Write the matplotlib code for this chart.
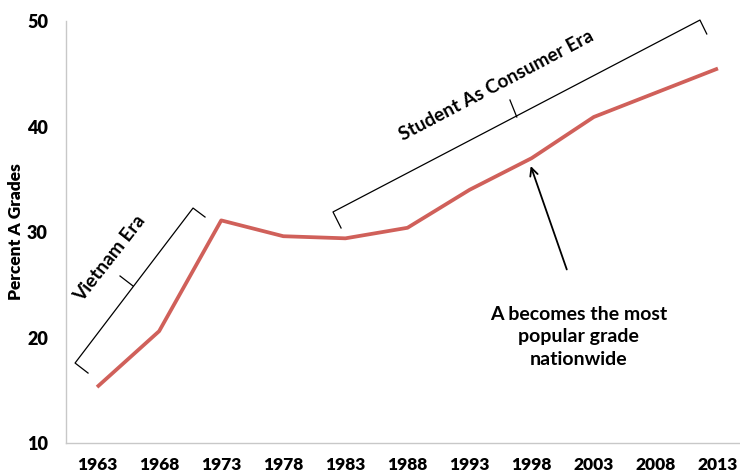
import matplotlib
matplotlib.use("Agg")
import matplotlib.pyplot as plt

years = ["1963", "1968", "1973", "1978", "1983", "1988", "1993", "1998", "2003", "2008", "2013"]
percent_a = [15.3, 20.6, 31.1, 29.6, 29.4, 30.4, 34.0, 37.0, 40.9, 43.2, 45.5]
y_ticks = [10, 20, 30, 40, 50]

plt.rcParams['font.family'] = ['Lato', 'DejaVu Sans']

fig = plt.figure(figsize=(7.4, 4.73), dpi=100)
ax = fig.add_axes([66/740, 30/473, (749-66)/740, (443-21)/473])

x = list(range(len(years)))
ax.plot(x, percent_a, color='#d0605a', lw=2.7, solid_capstyle='butt', zorder=3)

ax.set_xlim(-0.5, len(years) - 0.5)
ax.set_ylim(10, 50)
ax.set_xticks(x)
ax.set_xticklabels(years, fontsize=12.5, fontweight='heavy')
ax.set_yticks(y_ticks)
ax.set_yticklabels([str(v) for v in y_ticks], fontsize=13, fontweight='heavy')
ax.tick_params(axis='both', length=0)
ax.tick_params(axis='x', pad=10)
ax.tick_params(axis='y', pad=13)
for s in ['top', 'right']:
    ax.spines[s].set_visible(False)
for s in ['left', 'bottom']:
    ax.spines[s].set_color('#c8c8c8')
    ax.spines[s].set_linewidth(1.0)
ax.set_ylabel('Percent A Grades', fontsize=12.5, fontweight='heavy')
ax.yaxis.set_label_coords(-0.062, 0.5)

bk = dict(color='black', lw=0.9, clip_on=False, zorder=4)
# Vietnam Era bracket
ax.plot([-0.145, -0.354, 1.546, 1.739], [16.63, 17.58, 32.27, 31.42], **bk)
ax.plot([0.58, 0.37], [24.88, 25.83], **bk)
ax.text(0.21, 27.5, 'Vietnam Era', rotation=52, ha='center', va='center',
        fontsize=13.8, fontweight='bold', rotation_mode='anchor')

# Student As Consumer Era bracket
ax.plot([3.93, 3.80, 9.71, 9.82], [30.38, 31.90, 50.09, 48.77], **bk)
ax.plot([6.76, 6.65], [40.90, 42.51], **bk)
ax.text(6.44, 43.9, 'Student As Consumer Era', rotation=27.8, ha='center', va='center',
        fontsize=13.7, fontweight='bold', rotation_mode='anchor')

# Arrow annotation
ax.annotate('', xy=(6.97, 36.5), xytext=(7.58, 26.2),
            arrowprops=dict(arrowstyle='->', color='black', lw=1.3, mutation_scale=14))
ax.text(7.75, 20.05, 'A becomes the most\npopular grade\nnationwide', ha='center', va='center',
        fontsize=14, fontweight='bold', linespacing=1.42)

fig.savefig('out.png', dpi=100)
